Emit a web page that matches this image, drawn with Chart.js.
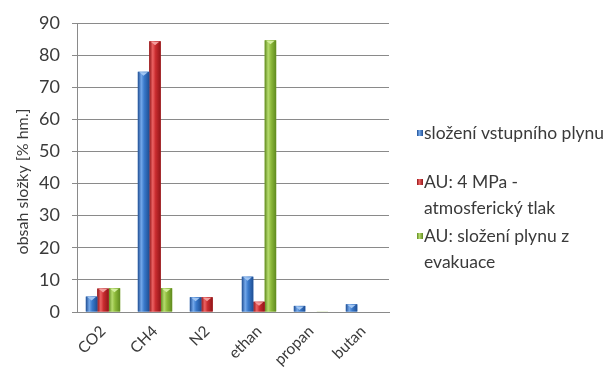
<!DOCTYPE html>
<html><head><meta charset="utf-8">
<script src="https://cdn.jsdelivr.net/npm/chart.js@4"></script>
<style>html,body{margin:0;padding:0;background:#fff}</style>
</head><body>
<canvas id="c" width="608" height="369"></canvas>
<script>
// Gas components on the category axis
const categories = ['CO2', 'CH4', 'N2', 'ethan', 'propan', 'butan'];
// Legend entries, split into the lines they are drawn on
const seriesLabels = [
  ['složení vstupního plynu'],
  ['AU: 4 MPa -', 'atmosferický tlak'],
  ['AU: složení plynu z', 'evakuace']
];
// Content of each component [% hm.]
const inputGas     = [4.8, 74.8, 4.6, 11.0, 1.9, 2.4];
const au4MPa       = [7.3, 84.3, 4.6, 3.2, 0, 0];
const auEvacuation = [7.4, 7.4, 0, 84.6, 0.1, 0];
const yTicks = [0, 10, 20, 30, 40, 50, 60, 70, 80, 90];
const yTitle = 'obsah složky [% hm.]';

const FONT = 'Lato';
const TEXT = '#3a3a3a';
const GRID = '#8a8a8a';

// edge / highlight / cap colours for each series
const palettes = [
  { dark: '#1f4e93', mid: '#3a7acc', light: '#74a8ea', cap: '#a2c6f2' },
  { dark: '#8f1518', mid: '#c92c2f', light: '#ec6262', cap: '#f39e9d' },
  { dark: '#5f8a1e', mid: '#8dba3a', light: '#b6db6e', cap: '#d4ee9f' }
];

// Cylinder-like shading of the bars
const barShading = {
  id: 'barShading',
  afterDatasetDraw(chart, args) {
    const ctx = chart.ctx;
    const pal = palettes[args.index];
    const area = chart.chartArea;
    ctx.save();
    ctx.beginPath();
    ctx.rect(area.left, area.top - 2, area.right - area.left, area.bottom - area.top + 2);
    ctx.clip();
    args.meta.data.forEach(el => {
      const p = el.getProps(['x', 'y', 'base', 'width'], true);
      const h = p.base - p.y;
      if (h <= 0.2) return;
      const l = p.x - p.width / 2, r = p.x + p.width / 2;
      const g = ctx.createLinearGradient(l, 0, r, 0);
      g.addColorStop(0, pal.dark);
      g.addColorStop(0.3, pal.light);
      g.addColorStop(0.55, pal.mid);
      g.addColorStop(1, pal.dark);
      ctx.fillStyle = g;
      ctx.fillRect(l, p.y, p.width, h);
      if (h > 3) {
        ctx.fillStyle = pal.cap;
        ctx.beginPath();
        ctx.moveTo(l + 1.5, p.y + 0.5);
        ctx.lineTo(r - 1.5, p.y + 0.5);
        ctx.lineTo(p.x, p.y + Math.min(4, h - 1));
        ctx.closePath();
        ctx.fill();
      }
    });
    ctx.restore();
  }
};

// Vertical axis title, set a little below the middle of the axis
const axisTitle = {
  id: 'axisTitle',
  afterDraw(chart) {
    const ctx = chart.ctx;
    const a = chart.chartArea;
    ctx.save();
    ctx.translate(23, (a.top + a.bottom) / 2 + 14);
    ctx.rotate(-Math.PI / 2);
    ctx.font = '16px "' + FONT + '"';
    ctx.fillStyle = TEXT;
    ctx.textAlign = 'center';
    ctx.textBaseline = 'middle';
    ctx.fillText(yTitle, 0, 0);
    ctx.restore();
  }
};

// Legend on the right with wrapped labels
const sideLegend = {
  id: 'sideLegend',
  afterDraw(chart) {
    const ctx = chart.ctx;
    const x = 417, tx = 424, lineH = 26.5;
    const firstLines = [133, 182, 236];
    ctx.save();
    ctx.font = '17.5px "' + FONT + '"';
    ctx.textBaseline = 'middle';
    seriesLabels.forEach((lines, i) => {
      const y0 = firstLines[i];
      const pal = palettes[i];
      const g = ctx.createLinearGradient(x, 0, x + 6, 0);
      g.addColorStop(0, pal.dark); g.addColorStop(0.4, pal.light); g.addColorStop(1, pal.dark);
      ctx.fillStyle = g;
      ctx.fillRect(x, y0 - 3, 6, 6);
      ctx.fillStyle = TEXT;
      lines.forEach((t, k) => ctx.fillText(t, tx, y0 + k * lineH));
    });
    ctx.restore();
  }
};

const mk = (data, i) => ({
  label: seriesLabels[i].join(' '),
  data,
  backgroundColor: palettes[i].mid,
  borderWidth: 0
});

new Chart(document.getElementById('c'), {
  type: 'bar',
  data: {
    labels: categories,
    datasets: [mk(inputGas, 0), mk(au4MPa, 1), mk(auEvacuation, 2)]
  },
  options: {
    responsive: false,
    animation: false,
    devicePixelRatio: 1,
    layout: { padding: { top: 23, right: 219, left: 0, bottom: 0 } },
    plugins: { legend: { display: false }, tooltip: { enabled: false } },
    datasets: { bar: { categoryPercentage: 0.66, barPercentage: 1 } },
    scales: {
      x: {
        grid: { display: false },
        border: { display: true, color: GRID, width: 1 },
        ticks: {
          color: TEXT, font: { family: FONT, size: 15.5 },
          minRotation: 45, maxRotation: 45, padding: 2
        },
        afterFit(s) { s.height = 57; }
      },
      y: {
        min: 0, max: 90,
        afterBuildTicks(s) { s.ticks = yTicks.map(v => ({ value: v })); },
        grid: { color: GRID, lineWidth: 1, tickLength: 5, drawTicks: true },
        border: { display: true, color: GRID, width: 1 },
        ticks: { color: TEXT, font: { family: FONT, size: 18 }, padding: 12 },
        afterFit(s) { s.width = 77; }
      }
    }
  },
  plugins: [barShading, axisTitle, sideLegend]
});
</script>
</body></html>
